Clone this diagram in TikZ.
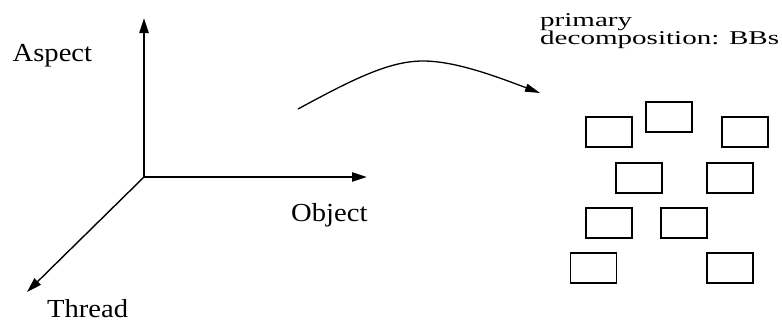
\documentclass[tikz,border=0pt]{standalone}
\usepackage{fontspec}
\setmainfont{Liberation Serif}
\usetikzlibrary{arrows.meta}
\tikzset{
  axis/.style={line width=2.2pt,-{Triangle[length=15pt,width=9pt]}},
  diagaxis/.style={line width=1.4pt,-{Triangle[length=15pt,width=9pt]}},
  flow/.style={line width=1.3pt,-{Triangle[length=15pt,width=8pt]}},
  bb/.style={draw,line width=1.8pt,minimum width=46pt,minimum height=30pt,inner sep=0pt},
  axlabel/.style={anchor=base west,inner sep=0pt,font=\fontsize{26}{26}\selectfont},
  title/.style={anchor=base west,inner sep=0pt,font=\fontsize{19.5}{18}\selectfont}
}
\begin{document}
\begin{tikzpicture}[x=1pt,y=-1pt]
\useasboundingbox (0,0) rectangle (782,327);
\coordinate (o) at (144,177);
\coordinate (aspecttip) at (144,18);
\coordinate (objecttip) at (367,177);
\coordinate (threadtip) at (27,292);
\draw[axis] (o) -- (aspecttip);
\draw[axis] (o) -- (objecttip);
\draw[diagaxis] (o) -- (threadtip);
\node[axlabel] (aspect) at (12.5,61.7) {\scalebox{1.1}[1]{Aspect}};
\node[axlabel] (object) at (291,221.7) {\scalebox{1.1}[1]{Object}};
\node[axlabel] (thread) at (47,317) {\scalebox{1.1}[1]{Thread}};
\coordinate (cs) at (298,109);
\coordinate (cp) at (423,61);
\coordinate (ce) at (540,93);
\draw[flow] (cs) .. controls (355,78) and (390,61) .. (cp) .. controls (455,61) and (495,76) .. (ce);
\node[title] (title1) at (540,26) {\scalebox{1.49}[1]{primary}};
\node[title] (title2) at (540,44) {\scalebox{1.49}[1]{decomposition: BBs}};
\node[bb] (bb1) at (608.7,131.7) {};
\node[bb] (bb2) at (669.2,116.8) {};
\node[bb] (bb3) at (745,131.7) {};
\node[bb] (bb4) at (639,177.7) {};
\node[bb] (bb5) at (729.7,177.7) {};
\node[bb] (bb6) at (608.7,222.8) {};
\node[bb] (bb7) at (684.2,222.8) {};
\node[bb] (bb8) at (593.4,268.3) {};
\node[bb] (bb9) at (729.7,268.3) {};
\end{tikzpicture}
\end{document}
